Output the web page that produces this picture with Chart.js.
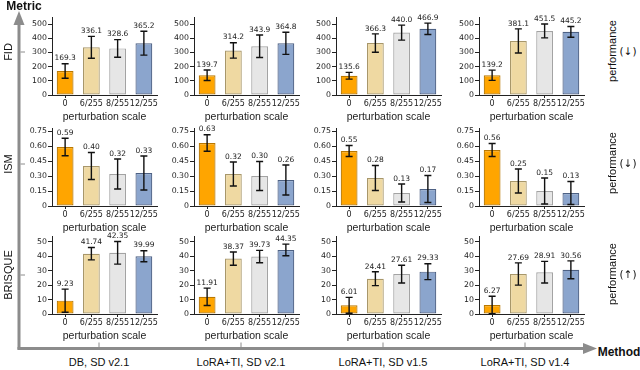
<!DOCTYPE html>
<html>
<head>
<meta charset="utf-8">
<script src="https://cdn.jsdelivr.net/npm/chart.js@4.4.1/dist/chart.umd.min.js"></script>
<style>
  body { margin: 0; background: #fff; }
  #stage { position: relative; width: 640px; height: 370px; overflow: hidden;
           font-family: "Liberation Sans", Arial, sans-serif; color: #111; }
  .panel { position: absolute; }
  .lbl { position: absolute; white-space: nowrap; transform: translate(-50%, -50%); font-size: 11px; }
  .rot { transform: translate(-50%, -50%) rotate(-90deg); }
  .bold { font-weight: bold; font-size: 12px; }
  .arrow { font-family: "DejaVu Sans", sans-serif; font-size: 10.5px; }
  #axes { position: absolute; left: 0; top: 0; }
</style>
</head>
<body>
<div id="stage">
  <svg id="axes" width="640" height="370"></svg>
</div>
<script>
const categories = ['0', '6/255', '8/255', '12/255'];
const methods = ['DB, SD v2.1', 'LoRA+TI, SD v2.1', 'LoRA+TI, SD v1.5', 'LoRA+TI, SD v1.4'];
const metrics = ['FID', 'ISM', 'BRISQUE'];
const directions = ['(\u2193)', '(\u2193)', '(\u2191)'];

// one row per method, one value per perturbation scale
const fidMean = [[169.3, 336.1, 328.6, 365.2], [139.7, 314.2, 343.9, 364.8],
                 [135.6, 366.3, 440.0, 466.9], [139.2, 381.1, 451.5, 445.2]];
const fidErr = [[51, 77, 62, 84], [37, 54, 79, 78], [24, 65, 53, 40], [36, 85, 49, 38]];
const ismMean = [[0.59, 0.40, 0.32, 0.33], [0.63, 0.32, 0.30, 0.26],
                 [0.55, 0.28, 0.13, 0.17], [0.56, 0.25, 0.15, 0.13]];
const ismErr = [[0.088, 0.135, 0.15, 0.17], [0.083, 0.12, 0.145, 0.15],
                [0.055, 0.125, 0.09, 0.135], [0.065, 0.12, 0.13, 0.115]];
const brisqueMean = [[9.23, 41.74, 42.35, 39.99], [11.91, 38.37, 39.73, 44.35],
                     [6.01, 24.41, 27.61, 29.33], [6.27, 27.69, 28.91, 30.56]];
const brisqueErr = [[8, 4.3, 7.8, 3.8], [6, 4.6, 4.3, 4], [5.5, 4.8, 6.1, 5.5], [6, 7.7, 7.5, 6.2]];

const yMax = [550, 0.78, 54];
const yStep = [100, 0.15, 10];
const labelDigits = [1, 2, 2];

const barFill = ['#ffa500', '#efd9a2', '#e6e6e6', '#8ba5cd'];
const barEdge = ['#b97800', '#a8976a', '#a3a3a3', '#4d6184'];

// layout
const axisLeft = [52, 194, 336, 479];
const areaTop = [17, 128, 236];
const colCenter = [99, 241, 383, 525];
const rowCenter = [52, 164, 275];

const stage = document.getElementById('stage');

// error bars + value labels
const errorBars = {
  id: 'errorBars',
  afterDatasetsDraw(chart, args, opts) {
    const ctx = chart.ctx;
    const y = chart.scales.y;
    const vals = chart.data.datasets[0].data;
    ctx.save();
    chart.getDatasetMeta(0).data.forEach((bar, i) => {
      const v = vals[i], e = opts.err[i];
      const top = y.getPixelForValue(v + e);
      const bot = y.getPixelForValue(Math.max(v - e, 0));
      const x = bar.x;
      ctx.strokeStyle = '#111';
      ctx.lineWidth = 1.4;
      ctx.beginPath();
      ctx.moveTo(x, top); ctx.lineTo(x, bot);
      ctx.moveTo(x - 3.5, top); ctx.lineTo(x + 3.5, top);
      ctx.moveTo(x - 3.5, bot); ctx.lineTo(x + 3.5, bot);
      ctx.stroke();
      ctx.fillStyle = '#222';
      ctx.font = '7.5px "DejaVu Sans"';
      ctx.textAlign = 'center';
      ctx.textBaseline = 'bottom';
      ctx.fillText(v.toFixed(opts.digits), x, top - 1.5);
    });
    ctx.restore();
  }
};

function makePanel(row, col, means, errs) {
  const div = document.createElement('div');
  div.className = 'panel';
  div.style.left = (axisLeft[col] - 30) + 'px';
  div.style.top = (areaTop[row] - 10) + 'px';
  div.style.width = '141px';
  div.style.height = '116px';
  const cv = document.createElement('canvas');
  div.appendChild(cv);
  stage.appendChild(div);

  new Chart(cv, {
    type: 'bar',
    data: {
      labels: categories,
      datasets: [{
        data: means,
        backgroundColor: barFill,
        borderColor: barEdge,
        borderWidth: 1.2,
        borderSkipped: false,
        barPercentage: 0.64,
        categoryPercentage: 1
      }]
    },
    options: {
      responsive: true,
      maintainAspectRatio: false,
      animation: false,
      devicePixelRatio: 1,
      layout: { padding: { top: 10, right: 6, left: 0, bottom: 0 } },
      plugins: {
        legend: { display: false },
        tooltip: { enabled: false },
        errorBars: { err: errs, digits: labelDigits[row] }
      },
      scales: {
        x: {
          grid: { drawOnChartArea: false, offset: false, tickLength: 3, color: '#222' },
          border: { color: '#222', width: 1 },
          ticks: { font: { family: 'DejaVu Sans', size: 8 }, color: '#222', padding: 1,
                   maxRotation: 0, autoSkip: false },
          title: { display: true, text: 'perturbation scale', color: '#222', padding: 0,
                   font: { family: 'Liberation Sans', size: 10.5 } },
          afterFit: s => { s.height = 28; }
        },
        y: {
          min: 0,
          max: yMax[row],
          grid: { drawOnChartArea: false, tickLength: 4, color: '#222' },
          border: { color: '#222', width: 1 },
          ticks: {
            stepSize: yStep[row],
            includeBounds: false,
            padding: 1,
            color: '#222',
            font: { family: 'DejaVu Sans', size: 7.8 },
            callback: v => (v === 0 ? '0' : (row === 1 ? v.toFixed(2) : String(v)))
          },
          afterFit: s => { s.width = 30; }
        }
      }
    },
    plugins: [errorBars]
  });
}

const meanSets = [fidMean, ismMean, brisqueMean];
const errSets = [fidErr, ismErr, brisqueErr];
for (let r = 0; r < 3; r++) {
  for (let c = 0; c < 4; c++) {
    makePanel(r, c, meanSets[r][c], errSets[r][c]);
  }
}

// outer "Metric" / "Method" arrows
const svg = document.getElementById('axes');
const gray = '#8c8c8c';
let s = '';
s += `<line x1="19" y1="349.5" x2="19" y2="22" stroke="${gray}" stroke-width="3"/>`;
s += `<polygon points="19,11 13.5,25 24.5,25" fill="${gray}"/>`;
s += `<line x1="17.5" y1="348.5" x2="586" y2="348.5" stroke="${gray}" stroke-width="3"/>`;
s += `<polygon points="597,348.5 583,343 583,354" fill="${gray}"/>`;
rowCenter.forEach(y => { s += `<line x1="20.5" y1="${y}" x2="25" y2="${y}" stroke="${gray}" stroke-width="1"/>`; });
colCenter.forEach(x => { s += `<line x1="${x}" y1="342.5" x2="${x}" y2="347" stroke="${gray}" stroke-width="1"/>`; });
svg.innerHTML = s;

function addLabel(text, x, y, cls) {
  const d = document.createElement('div');
  d.className = 'lbl' + (cls ? ' ' + cls : '');
  d.style.left = x + 'px';
  d.style.top = y + 'px';
  d.textContent = text;
  stage.appendChild(d);
}

addLabel('Metric', 24, 6, 'bold');
addLabel('Method', 619, 352, 'bold');
metrics.forEach((m, i) => addLabel(m, 8, rowCenter[i], 'rot'));
methods.forEach((m, i) => addLabel(m, colCenter[i], 362));
directions.forEach((d, i) => {
  addLabel('performance', 612, rowCenter[i] - 1, 'rot');
  addLabel(d, 628, rowCenter[i] - 1, 'arrow');
});
</script>
</body>
</html>
